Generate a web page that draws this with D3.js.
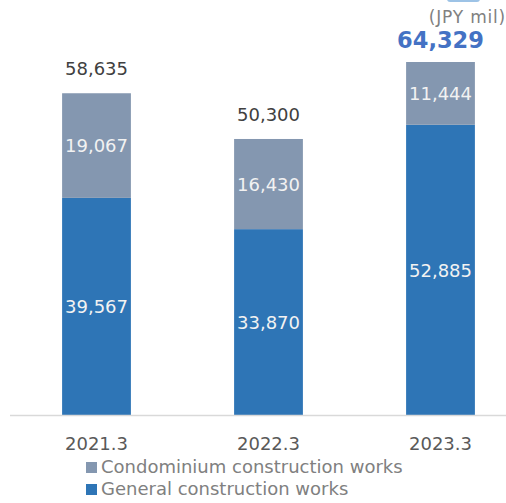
<!DOCTYPE html>
<html lang="en">
<head>
    <meta charset="UTF-8">
    <title>Construction works</title>
    <style>
        body { margin: 0; background: #fff; }
        text { font-family: "DejaVu Sans", Verdana, sans-serif; }
    </style>
</head>
<body>
    <script src="https://cdn.jsdelivr.net/npm/d3@7"></script>
    <script>
        const svg_w = 506;
        const svg_h = 503;

        const periods = ['2021.3', '2022.3', '2023.3'];
        const general = [39567, 33870, 52885];
        const condominium = [19067, 16430, 11444];
        const totals = [58635, 50300, 64329];
        const series_names = ['Condominium construction works', 'General construction works'];
        const unit_label = '(JPY mil)';

        const colors = { general: '#2E75B6', condominium: '#8497B0' };

        const rows = periods.map((p, i) => ({
            period: p, general: general[i], condominium: condominium[i], total: totals[i]
        }));

        const svg = d3.select('body')
            .append('svg')
            .attr('width', svg_w)
            .attr('height', svg_h);

        const x = d3.scaleBand()
            .domain(periods)
            .range([10.5, 526.5])
            .paddingInner(0.6)
            .paddingOuter(0.3);

        const y = d3.scaleLinear()
            .domain([0, 64329])
            .range([415, 62]);

        const stack = d3.stack().keys(['general', 'condominium'])(rows);

        // bit of the title box above, cut by the frame
        svg.append('rect')
            .attr('x', 447)
            .attr('y', -10)
            .attr('width', 33)
            .attr('height', 12)
            .attr('rx', 3)
            .attr('fill', '#9DC3E6');

        const layers = svg.selectAll('g.layer')
            .data(stack)
            .enter()
            .append('g')
            .attr('class', 'layer')
            .attr('fill', d => colors[d.key]);

        layers.selectAll('rect')
            .data(d => d)
            .enter()
            .append('rect')
            .attr('x', d => x(d.data.period))
            .attr('width', x.bandwidth())
            .attr('y', d => y(d[1]))
            .attr('height', d => y(d[0]) - y(d[1]));

        // values inside segments
        layers.selectAll('text')
            .data(d => d.map(s => ({ s, key: d.key })))
            .enter()
            .append('text')
            .attr('x', d => x(d.s.data.period) + x.bandwidth() / 2)
            .attr('y', d => (y(d.s[0]) + y(d.s[1])) / 2)
            .attr('dy', '0.38em')
            .attr('text-anchor', 'middle')
            .attr('font-size', '18px')
            .attr('fill', '#F2F2F2')
            .text(d => d3.format(',')(d.s.data[d.key]));

        // totals above bars
        const last = rows.length - 1;
        svg.selectAll('text.total')
            .data(rows)
            .enter()
            .append('text')
            .attr('class', 'total')
            .attr('x', d => x(d.period) + x.bandwidth() / 2)
            .attr('y', (d, i) => y(d.total) - (i === last ? 14 : 18))
            .attr('text-anchor', 'middle')
            .attr('font-size', (d, i) => i === last ? '22.5px' : '18px')
            .attr('font-weight', (d, i) => i === last ? 'bold' : 'normal')
            .attr('fill', (d, i) => i === last ? '#4472C4' : '#404040')
            .text(d => d3.format(',')(d.total));

        // axis
        const axis = svg.append('g')
            .attr('transform', `translate(0,${y(0)})`)
            .call(d3.axisBottom(x).tickSize(0).tickPadding(22));
        axis.select('.domain').attr('stroke', '#D9D9D9').attr('stroke-width', 1.5)
            .attr('d', 'M10,0.5H506');
        axis.selectAll('text')
            .attr('font-family', '"DejaVu Sans", Verdana, sans-serif')
            .attr('font-size', '18px')
            .attr('fill', '#595959');

        svg.append('text')
            .attr('x', 506)
            .attr('y', 23)
            .attr('text-anchor', 'end')
            .attr('font-size', '17px')
            .attr('letter-spacing', '0.8px')
            .attr('fill', '#808080')
            .text(unit_label);

        // legend
        const legend = svg.selectAll('g.legend')
            .data(series_names)
            .enter()
            .append('g')
            .attr('class', 'legend')
            .attr('transform', (d, i) => `translate(86,${473 + i * 22})`);

        legend.append('rect')
            .attr('x', 0)
            .attr('y', -11)
            .attr('width', 11)
            .attr('height', 11)
            .attr('fill', (d, i) => i === 0 ? colors.condominium : colors.general);

        legend.append('text')
            .attr('x', 15)
            .attr('y', 0)
            .attr('font-size', '18px')
            .attr('fill', '#808080')
            .text(d => d);
    </script>
</body>
</html>
